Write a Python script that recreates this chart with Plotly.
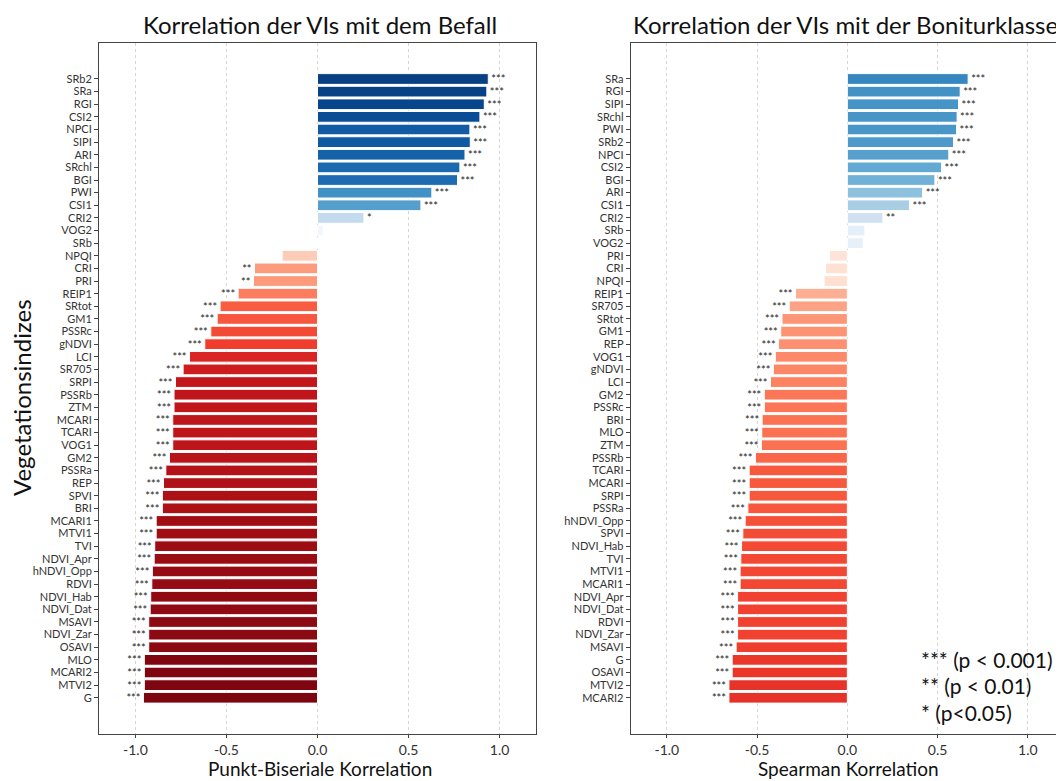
import plotly.graph_objects as go
import plotly.colors as pc

# Punkt-biseriale Korrelation mit dem Befall
vi_befall = ['SRb2', 'SRa', 'RGI', 'CSI2', 'NPCI', 'SIPI', 'ARI', 'SRchl', 'BGI', 'PWI',
             'CSI1', 'CRI2', 'VOG2', 'SRb', 'NPQI', 'CRI', 'PRI', 'REIP1', 'SRtot', 'GM1',
             'PSSRc', 'gNDVI', 'LCI', 'SR705', 'SRPI', 'PSSRb', 'ZTM', 'MCARI', 'TCARI', 'VOG1',
             'GM2', 'PSSRa', 'REP', 'SPVI', 'BRI', 'MCARI1', 'MTVI1', 'TVI', 'NDVI_Apr', 'hNDVI_Opp',
             'RDVI', 'NDVI_Hab', 'NDVI_Dat', 'MSAVI', 'NDVI_Zar', 'OSAVI', 'MLO', 'MCARI2', 'MTVI2', 'G']
r_befall = [0.938, 0.930, 0.916, 0.892, 0.837, 0.839, 0.810, 0.782, 0.769, 0.628,
            0.568, 0.255, 0.031, 0.004, -0.194, -0.346, -0.352, -0.436, -0.535, -0.551,
            -0.586, -0.619, -0.703, -0.738, -0.780, -0.788, -0.788, -0.795, -0.795, -0.795,
            -0.813, -0.833, -0.846, -0.852, -0.852, -0.886, -0.886, -0.894, -0.897, -0.907,
            -0.910, -0.916, -0.919, -0.927, -0.927, -0.927, -0.951, -0.951, -0.951, -0.956]
sig_befall = ['***'] * 11 + ['*', '', '', '', '**', '**'] + ['***'] * 33

# Spearman Korrelation mit der Boniturklasse
vi_bonitur = ['SRa', 'RGI', 'SIPI', 'SRchl', 'PWI', 'SRb2', 'NPCI', 'CSI2', 'BGI', 'ARI',
              'CSI1', 'CRI2', 'SRb', 'VOG2', 'PRI', 'CRI', 'NPQI', 'REIP1', 'SR705', 'SRtot',
              'GM1', 'REP', 'VOG1', 'gNDVI', 'LCI', 'GM2', 'PSSRc', 'BRI', 'MLO', 'ZTM',
              'PSSRb', 'TCARI', 'MCARI', 'SRPI', 'PSSRa', 'hNDVI_Opp', 'SPVI', 'NDVI_Hab', 'TVI', 'MTVI1',
              'MCARI1', 'NDVI_Apr', 'NDVI_Dat', 'RDVI', 'NDVI_Zar', 'MSAVI', 'G', 'OSAVI', 'MTVI2', 'MCARI2']
r_bonitur = [0.669, 0.625, 0.616, 0.608, 0.605, 0.588, 0.562, 0.522, 0.485, 0.417,
             0.344, 0.197, 0.097, 0.088, -0.099, -0.121, -0.129, -0.287, -0.322, -0.362,
             -0.369, -0.381, -0.399, -0.410, -0.426, -0.460, -0.460, -0.472, -0.474, -0.476,
             -0.509, -0.544, -0.544, -0.544, -0.551, -0.566, -0.579, -0.586, -0.590, -0.594,
             -0.594, -0.608, -0.608, -0.608, -0.608, -0.616, -0.638, -0.638, -0.656, -0.656]
sig_bonitur = ['***'] * 11 + ['**', '', '', '', '', ''] + ['***'] * 33

legend_lines = ['*** (p < 0.001)', '** (p < 0.01)', '* (p<0.05)']

FONT = 'Lato'
W, H = 1056, 773   # page body has an 8px margin
OFF = 8


def px_x(sx):
    return (sx - OFF) / W


def px_y(sy):
    return 1 - (sy - OFF) / H


blues = pc.make_colorscale(pc.sequential.Blues)
reds = pc.make_colorscale(pc.sequential.Reds)


def bar_colors(values):
    # Blau fuer positive, Rot fuer negative Korrelationen, Intensitaet = |r|
    out = []
    for v in values:
        scale = blues if v >= 0 else reds
        out.append(pc.sample_colorscale(scale, [min(abs(v), 1.0)])[0])
    return out


fig = go.Figure()

for i, (names, vals, sig) in enumerate([(vi_befall, r_befall, sig_befall),
                                        (vi_bonitur, r_bonitur, sig_bonitur)]):
    fig.add_trace(go.Bar(
        y=names, x=vals, orientation='h',
        marker=dict(color=bar_colors(vals), line=dict(color='white', width=1)),
        text=sig, textposition='outside', constraintext='none', cliponaxis=False,
        textfont=dict(family=FONT, size=11, color='#222222'),
        xaxis='x' if i == 0 else 'x2', yaxis='y' if i == 0 else 'y2',
        showlegend=False,
    ))

xaxis_style = dict(
    range=[-1.2, 1.2], tickvals=[-1.0, -0.5, 0.0, 0.5, 1.0],
    ticktext=['-1.0', '-0.5', '0.0', '0.5', '1.0'],
    showgrid=True, gridcolor='#d4d4d4', griddash='3px,3px', gridwidth=1,
    zeroline=False, showline=True, linecolor='#444444', linewidth=1, mirror=True,
    ticks='outside', ticklen=3, tickcolor='#444444',
    tickfont=dict(family=FONT, size=14, color='#333333'),
)

yaxis_style = dict(
    type='category', range=[51.87, -2.85],
    showgrid=False, zeroline=False, showline=True, linecolor='#444444', linewidth=1, mirror=True,
    ticks='outside', ticklen=4, tickcolor='#444444',
    tickfont=dict(family=FONT, size=11, color='#333333'),
)

x1_dom = [px_x(99), px_x(536)]
x2_dom = [px_x(630.7), 1.0]
y_dom = [px_y(734), px_y(43)]

fig.update_layout(
    width=W, height=H,
    margin=dict(l=0, r=0, t=0, b=0),
    plot_bgcolor='white', paper_bgcolor='white',
    bargap=0.15,
    xaxis=dict(domain=x1_dom, anchor='y', **xaxis_style),
    xaxis2=dict(domain=x2_dom, anchor='y2', **xaxis_style),
    yaxis=dict(domain=y_dom, anchor='x', tickmode='array',
               tickvals=vi_befall, ticktext=vi_befall, **yaxis_style),
    yaxis2=dict(domain=y_dom, anchor='x2', tickmode='array',
                tickvals=vi_bonitur, ticktext=vi_bonitur, **yaxis_style),
)

# Titel
for text, xc in [('Korrelation der VIs mit dem Befall', 320),
                 ('Korrelation der VIs mit der Boniturklasse', 845)]:
    fig.add_annotation(text=text, x=px_x(xc), y=px_y(25), xref='paper', yref='paper',
                       xanchor='center', yanchor='middle', showarrow=False,
                       font=dict(family=FONT, size=24, color='#111111'))

# x-Achsentitel, am unteren Rand
for text, xc in [('Punkt-Biseriale Korrelation', 320), ('Spearman Korrelation', 848)]:
    fig.add_annotation(text=text, x=px_x(xc), y=0, xref='paper', yref='paper',
                       xanchor='center', yanchor='bottom', showarrow=False, borderpad=0,
                       font=dict(family=FONT, size=19, color='#111111'))

fig.add_annotation(text='Vegetationsindizes', x=px_x(22), y=px_y(398), xref='paper', yref='paper',
                   textangle=-90, xanchor='center', yanchor='middle', showarrow=False,
                   font=dict(family=FONT, size=24, color='#111111'))

# Signifikanz-Legende
for k, line in enumerate(legend_lines):
    fig.add_annotation(text=line, x=px_x(919), y=px_y(659 + 26.5 * k), xref='paper', yref='paper',
                       xanchor='left', yanchor='middle', showarrow=False,
                       font=dict(family=FONT, size=21, color='#111111'))

fig.write_html("out.html")
